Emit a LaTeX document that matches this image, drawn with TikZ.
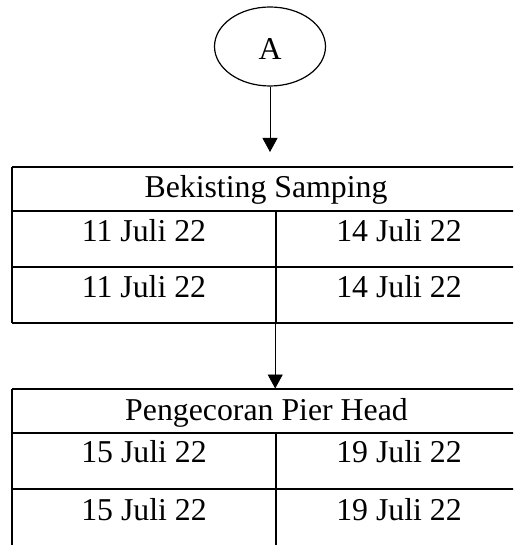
\documentclass[tikz,border=0pt]{standalone}
\usepackage{fontspec}
\setmainfont{Liberation Serif}
\usetikzlibrary{arrows.meta,shapes.geometric}
\begin{document}
\begin{tikzpicture}[x=1pt,y=-1pt,
  txt/.style={font=\fontsize{31.8}{36}\selectfont, inner sep=0pt, anchor=base},
  gridline/.style={line width=1.8pt},
  link/.style={line width=0.8pt, -{Triangle[width=15pt,length=14pt]}}]
\useasboundingbox (0,0) rectangle (513,545);
\clip (0,0) rectangle (513,545);

% start marker
\node[draw, ellipse, line width=1.2pt, minimum width=111pt, minimum height=79pt, inner sep=0pt] (A) at (270,46.5) {};
\node[txt] (Atext) at (270,60) {A};

% first table: Bekisting Samping
\draw[gridline] (12,167) -- (530,167);
\draw[gridline] (12,211) -- (530,211);
\draw[gridline] (12,267) -- (530,267);
\draw[gridline] (12,323) -- (530,323);
\draw[gridline] (12,167) -- (12,323);
\draw[gridline] (275.7,211) -- (275.7,323);
\node[txt] (h1) at (266,197.3) {Bekisting Samping};
\node[txt] (a1) at (144,241.5) {11 Juli 22};
\node[txt] (b1) at (399,241.2) {14 Juli 22};
\node[txt] (a2) at (144,297.3) {11 Juli 22};
\node[txt] (b2) at (399,297) {14 Juli 22};

% second table: Pengecoran Pier Head
\draw[gridline] (12,389) -- (530,389);
\draw[gridline] (12,433) -- (530,433);
\draw[gridline] (12,489) -- (530,489);
\draw[gridline] (12,389) -- (12,560);
\draw[gridline] (275.7,433) -- (275.7,560);
\node[txt] (h2) at (266.5,420) {Pengecoran Pier Head};
\node[txt] (c1) at (144,462.7) {15 Juli 22};
\node[txt] (d1) at (399,462.7) {19 Juli 22};
\node[txt] (c2) at (144,520) {15 Juli 22};
\node[txt] (d2) at (399,520) {19 Juli 22};

% connectors
\coordinate (in1) at (270,152);
\coordinate (out1) at (275.2,323);
\coordinate (in2) at (275.2,388.5);
\draw[link] (A) -- (in1);
\draw[link] (out1) -- (in2);
\end{tikzpicture}
\end{document}
